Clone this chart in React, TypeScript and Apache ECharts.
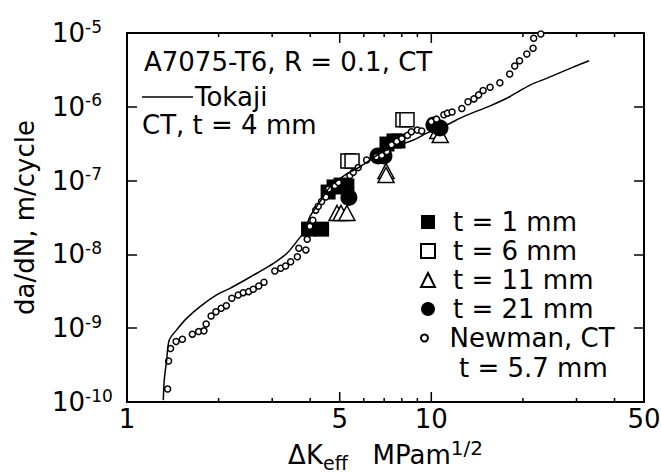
import React, { useEffect, useRef } from "react";
import * as echarts from "echarts";

const FONT = "DejaVu Sans";

const X_MIN = 1;
const X_MAX = 50;
const Y_MIN = 1e-10;
const Y_MAX = 1e-5;

const xLabelValues = [1, 5, 10, 50];
const xMajorTicks = [5, 10];
const xMinorTicks = [2, 3, 4, 6, 7, 8, 9, 20, 30, 40];

// Newman, CT, t = 5.7 mm  [ΔKeff, da/dN]
const newmanPoints: [number, number][] = [
  [1.36, 1.5e-10], [1.37, 3.6e-10], [1.39, 5.3e-10], [1.45, 6.6e-10], [1.52, 7.1e-10],
  [1.64, 8.3e-10], [1.72, 9.0e-10], [1.79, 9.2e-10], [1.82, 1.14e-9], [1.89, 1.46e-9],
  [1.96, 1.67e-9], [2.04, 1.86e-9], [2.12, 2.02e-9], [2.21, 2.54e-9], [2.32, 2.82e-9],
  [2.41, 3.03e-9], [2.51, 3.13e-9], [2.6, 3.37e-9], [2.71, 3.73e-9], [2.82, 4.19e-9],
  [3.06, 5.96e-9], [3.2, 6.49e-9], [3.32, 6.97e-9], [3.45, 7.96e-9], [3.63, 9.3e-9],
  [3.67, 1.21e-8], [3.87, 1.15e-8], [3.91, 1.6e-8], [3.99, 2.4e-8], [4.08, 2.9e-8],
  [4.17, 3.98e-8], [4.25, 4.5e-8], [4.36, 5.2e-8], [4.5, 6.0e-8], [4.6, 7.7e-8],
  [4.82, 8.6e-8], [4.95, 9.4e-8], [5.4, 1.17e-7], [5.54, 1.3e-7], [5.75, 1.5e-7],
  [6.13, 1.9e-7], [6.6, 2.1e-7], [6.87, 2.2e-7], [7.14, 2.47e-7], [7.4, 3.05e-7],
  [7.7, 3.4e-7], [8.0, 3.7e-7], [8.35, 4.1e-7], [8.6, 4.6e-7], [9.0, 4.85e-7],
  [9.3, 4.7e-7], [10.0, 6.3e-7], [10.4, 6.8e-7], [11.0, 7.8e-7], [11.3, 8.2e-7],
  [11.7, 8.5e-7], [12.6, 9.5e-7], [13.2, 1.17e-6], [13.8, 1.28e-6], [14.3, 1.45e-6],
  [14.8, 1.66e-6], [15.6, 1.84e-6], [16.8, 2.12e-6], [18.1, 2.78e-6], [18.8, 3.57e-6],
  [19.5, 4.21e-6], [20.6, 5.19e-6], [21.6, 6.2e-6], [21.7, 8.47e-6], [22.9, 9.7e-6],
];

// Tokaji, CT, t = 4 mm
const tokajiCurve: [number, number][] = [
  [1.316, 1.06e-10], [1.326, 2.0e-10], [1.35, 3.7e-10], [1.377, 6.9e-10], [1.456, 9.5e-10],
  [1.57, 1.36e-9], [1.738, 1.96e-9], [1.97, 2.82e-9], [2.18, 3.47e-9], [2.475, 4.64e-9],
  [2.67, 5.55e-9], [3.03, 7.58e-9], [3.35, 1.03e-8], [3.61, 1.49e-8], [3.85, 2.14e-8],
  [3.99, 3.24e-8], [4.31, 5.18e-8], [4.65, 8.26e-8], [5.2, 1.19e-7], [5.83, 1.54e-7],
  [6.29, 1.9e-7], [6.95, 2.47e-7], [7.7, 2.94e-7], [8.73, 3.55e-7], [9.9, 4.6e-7],
  [11.23, 5.67e-7], [12.74, 7.35e-7], [15.6, 1.03e-6], [18.1, 1.37e-6], [21.1, 1.97e-6],
  [23.9, 2.43e-6], [28.6, 3.32e-6], [33.0, 4.21e-6],
];

const t1mm: [number, number][] = [
  [3.95, 2.2e-8], [4.36, 2.2e-8], [4.58, 7.0e-8], [4.79, 8.2e-8], [5.05, 8.7e-8],
  [5.28, 8.45e-8], [7.15, 3.13e-7], [7.54, 3.44e-7], [7.77, 3.44e-7],
];
const t6mm: [number, number][] = [
  [5.32, 1.84e-7], [5.49, 1.84e-7], [8.07, 6.7e-7], [8.32, 6.7e-7],
];
const t11mm: [number, number][] = [
  [4.9, 3.64e-8], [5.05, 3.64e-8], [5.28, 3.64e-8], [7.1, 1.35e-7], [7.1, 1.19e-7],
  [10.5, 4.7e-7], [10.7, 4.15e-7],
];
const t21mm: [number, number][] = [
  [5.36, 5.9e-8], [6.68, 2.16e-7], [6.99, 2.16e-7], [10.2, 5.67e-7], [10.68, 5.16e-7],
];

const openStyle = { color: "#fff", borderColor: "#000", borderWidth: 1.5, opacity: 1 };
const solidStyle = { color: "#000", opacity: 1 };
const baseText = { fontFamily: FONT, color: "#000", fontSize: 26 };

export default function App() {
  const ref = useRef<HTMLDivElement>(null);
  useEffect(() => {
    document.body.style.margin = "0";
    if (!ref.current) return;
    const chart = echarts.init(ref.current, undefined, { renderer: "svg" });
    const tickData = [
      ...xMajorTicks.map((v) => [v, Y_MIN, 10]),
      ...xMinorTicks.map((v) => [v, Y_MIN, 4]),
    ];
    const option: any = {
      animation: false,
      backgroundColor: "#fff",
      grid: {
        left: 127, top: 33, right: 17, bottom: 72,
        containLabel: false, outerBoundsMode: "none",
      },
      title: [
        { text: "A7075-T6, R = 0.1, CT", left: 144, top: 49, padding: 0, textStyle: { ...baseText, fontWeight: "normal" } },
        { text: "CT, t = 4 mm", left: 142, top: 112, padding: 0, textStyle: { ...baseText, fontWeight: "normal" } },
        { text: "t = 5.7 mm", left: 459, top: 355, padding: 0, textStyle: { ...baseText, fontWeight: "normal" } },
      ],
      legend: [
        {
          orient: "vertical", left: 420, top: 209, itemWidth: 14, itemHeight: 14, itemGap: 3,
          selectedMode: false, padding: 0,
          data: ["t = 1 mm", "t = 6 mm", "t = 11 mm", "t = 21 mm"],
          textStyle: { ...baseText, padding: [0, 0, 0, 13] },
        },
        {
          orient: "vertical", left: 420, top: 325, itemWidth: 14, itemHeight: 7,
          selectedMode: false, padding: 0,
          data: ["Newman, CT"],
          textStyle: { ...baseText, padding: [0, 0, 0, 13] },
        },
        {
          left: 142, top: 84, itemWidth: 51, itemHeight: 1.5, selectedMode: false, padding: 0,
          data: [{ name: "Tokaji", icon: "rect", itemStyle: { color: "#000", borderWidth: 0 } }],
          textStyle: { ...baseText, padding: [0, 0, 0, -3] },
        },
      ],
      xAxis: [
        {
          type: "log", logBase: 10, min: X_MIN, max: X_MAX, position: "bottom",
          axisLine: { show: true, onZero: false, lineStyle: { color: "#000", width: 2 } },
          axisTick: { show: false }, minorTick: { show: false }, splitLine: { show: false },
          axisLabel: {
            customValues: xLabelValues, margin: 4, ...baseText,
            formatter: (v: number) => String(Math.round(v * 1000) / 1000),
          },
          name: "{n|ΔK}{sub|eff}{n|   MPam}{sup|1/2}",
          nameLocation: "middle", nameGap: 36,
          nameTextStyle: {
            ...baseText,
            rich: {
              n: { ...baseText, lineHeight: 34 },
              sub: { ...baseText, fontSize: 19, lineHeight: 20, verticalAlign: "bottom" },
              sup: { ...baseText, fontSize: 20, lineHeight: 10, verticalAlign: "top" },
            },
          },
        },
        {
          type: "log", logBase: 10, min: X_MIN, max: X_MAX, position: "top",
          axisLine: { show: true, onZero: false, lineStyle: { color: "#000", width: 2 } },
          axisTick: { show: false }, axisLabel: { show: false }, splitLine: { show: false },
        },
      ],
      yAxis: [
        {
          type: "log", logBase: 10, min: Y_MIN, max: Y_MAX, position: "left",
          axisLine: { show: true, onZero: false, lineStyle: { color: "#000", width: 2 } },
          axisTick: { show: true, inside: true, length: 10, lineStyle: { color: "#000", width: 1.5 } },
          splitLine: { show: false },
          axisLabel: {
            align: "left", margin: 75,
            formatter: (v: number) => `{b|10}{s|${Math.round(Math.log10(v))}}`,
            rich: {
              b: { ...baseText, lineHeight: 30 },
              s: { ...baseText, fontSize: 17, lineHeight: 17, verticalAlign: "top" },
            },
          },
          name: "da/dN, m/cycle", nameLocation: "middle", nameGap: 89,
          nameTextStyle: { ...baseText },
        },
        {
          type: "log", logBase: 10, min: Y_MIN, max: Y_MAX, position: "right",
          axisLine: { show: true, onZero: false, lineStyle: { color: "#000", width: 2 } },
          axisTick: { show: true, inside: true, length: 10, lineStyle: { color: "#000", width: 1.5 } },
          axisLabel: { show: false }, splitLine: { show: false },
        },
      ],
      series: [
        {
          name: "t = 11 mm", type: "scatter", data: t11mm, symbol: "triangle", symbolSize: [16, 15],
          itemStyle: openStyle, silent: true,
        },
        {
          name: "t = 6 mm", type: "scatter", data: t6mm, symbol: "rect", symbolSize: 14,
          itemStyle: openStyle, silent: true,
        },
        {
          name: "t = 1 mm", type: "scatter", data: t1mm, symbol: "rect", symbolSize: 15,
          itemStyle: solidStyle, silent: true,
        },
        {
          name: "t = 21 mm", type: "scatter", data: t21mm, symbol: "circle", symbolSize: 17,
          itemStyle: solidStyle, silent: true,
        },
        {
          name: "Tokaji", type: "line", data: tokajiCurve, symbol: "none", showSymbol: false,
          smooth: 0.3, lineStyle: { color: "#000", width: 1.5 }, itemStyle: { color: "#000" }, silent: true,
        },
        {
          name: "Newman, CT", type: "scatter", data: newmanPoints, symbol: "circle", symbolSize: 6,
          itemStyle: openStyle, silent: true,
        },
        {
          name: "ticks", type: "custom", silent: true, z: 10,
          data: tickData, encode: { x: 0, y: 1 },
          renderItem: (_p: any, api: any) => {
            const x = api.value(0);
            const len = api.value(2);
            const b = api.coord([x, Y_MIN]);
            const t = api.coord([x, Y_MAX]);
            const st = { stroke: "#000", lineWidth: 1.5 };
            return {
              type: "group",
              children: [
                { type: "line", shape: { x1: b[0], y1: b[1], x2: b[0], y2: b[1] - len }, style: st },
                { type: "line", shape: { x1: t[0], y1: t[1], x2: t[0], y2: t[1] + len }, style: st },
              ],
            };
          },
        },
      ],
    };
    chart.setOption(option);
    return () => chart.dispose();
  }, []);
  return <div ref={ref} style={{ width: 661, height: 474 }} />;
}
